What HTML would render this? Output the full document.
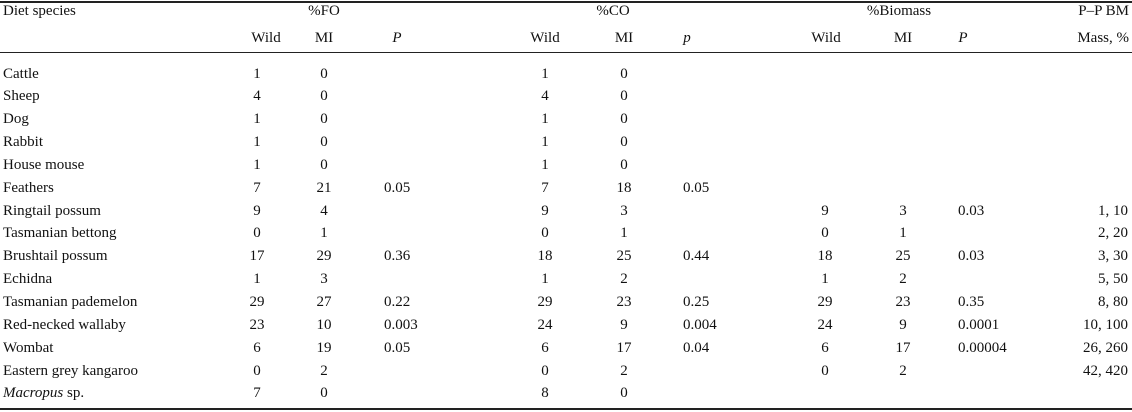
<!DOCTYPE html>
<html><head><meta charset="utf-8"><style>
body{margin:0;width:1132px;height:412px;background:#fff;position:relative;overflow:hidden;font-family:"Liberation Serif",serif;font-size:15px;color:#111}
.t{position:absolute;white-space:nowrap;line-height:18px}
.rule{position:absolute;left:0;width:1132px;background:#222}
</style></head><body>
<div class="rule" style="top:1px;height:2px"></div>
<div class="rule" style="top:52px;height:1px"></div>
<div class="rule" style="top:408px;height:2px"></div>
<div id="tbl"></div>
<script>
const species=["Cattle","Sheep","Dog","Rabbit","House mouse","Feathers","Ringtail possum","Tasmanian bettong","Brushtail possum","Echidna","Tasmanian pademelon","Red-necked wallaby","Wombat","Eastern grey kangaroo","Macropus sp."];
const foWild=["1","4","1","1","1","7","9","0","17","1","29","23","6","0","7"];
const foMI=["0","0","0","0","0","21","4","1","29","3","27","10","19","2","0"];
const foP=["","","","","","0.05","","","0.36","","0.22","0.003","0.05","",""];
const coWild=["1","4","1","1","1","7","9","0","18","1","29","24","6","0","8"];
const coMI=["0","0","0","0","0","18","3","1","25","2","23","9","17","2","0"];
const coP=["","","","","","0.05","","","0.44","","0.25","0.004","0.04","",""];
const bmWild=["","","","","","","9","0","18","1","29","24","6","0",""];
const bmMI=["","","","","","","3","1","25","2","23","9","17","2",""];
const bmP=["","","","","","","0.03","","0.03","","0.35","0.0001","0.00004","",""];
const ppbm=["","","","","","","1, 10","2, 20","3, 30","5, 50","8, 80","10, 100","26, 260","42, 420",""];
const root=document.getElementById('tbl');
function put(txt,x,y,align,name,italic){
  const d=document.createElement('div');d.className='t';
  if(txt==="Macropus sp."){d.innerHTML='<i>Macropus</i> sp.';}else d.textContent=txt;
  
  
  let tf='translateY(-50%)';
  if(align==='c'){d.style.left=x+'px';tf+=' translateX(-50%)';}
  else if(align==='r'){d.style.right=(1132-x)+'px';}
  else d.style.left=x+'px';
  d.style.top=y+'px';d.style.transform=tf;
  if(italic)d.style.fontStyle='italic';
  root.appendChild(d);
}
put("Diet species",3,11,'l','header-diet-species');
put("%FO",324,11,'c','header-fo');
put("%CO",613,11,'c','header-co');
put("%Biomass",899,11,'c','header-biomass');
put("P–P BM",1129,11,'r','header-ppbm');
put("Wild",266,38,'c','header-fo-wild');put("MI",324,38,'c','header-fo-mi');put("P",397,38,'c','header-fo-p',true);
put("Wild",545,38,'c','header-co-wild');put("MI",624,38,'c','header-co-mi');put("p",687,38,'c','header-co-p',true);
put("Wild",826,38,'c','header-bm-wild');put("MI",903,38,'c','header-bm-mi');put("P",963,38,'c','header-bm-p',true);
put("Mass, %",1129,38,'r','header-mass');
for(let i=0;i<species.length;i++){
  const y=73.5+i*22.85;
  put(species[i],3,y,'l','species-name',false);
  put(foWild[i],257,y,'c','fo-wild');put(foMI[i],324,y,'c','fo-mi');put(foP[i],384,y,'l','fo-p');
  put(coWild[i],545,y,'c','co-wild');put(coMI[i],624,y,'c','co-mi');put(coP[i],683,y,'l','co-p');
  put(bmWild[i],825,y,'c','bm-wild');put(bmMI[i],903,y,'c','bm-mi');put(bmP[i],958,y,'l','bm-p');
  put(ppbm[i],1128,y,'r','ppbm-mass');
}
</script>
</body></html>
